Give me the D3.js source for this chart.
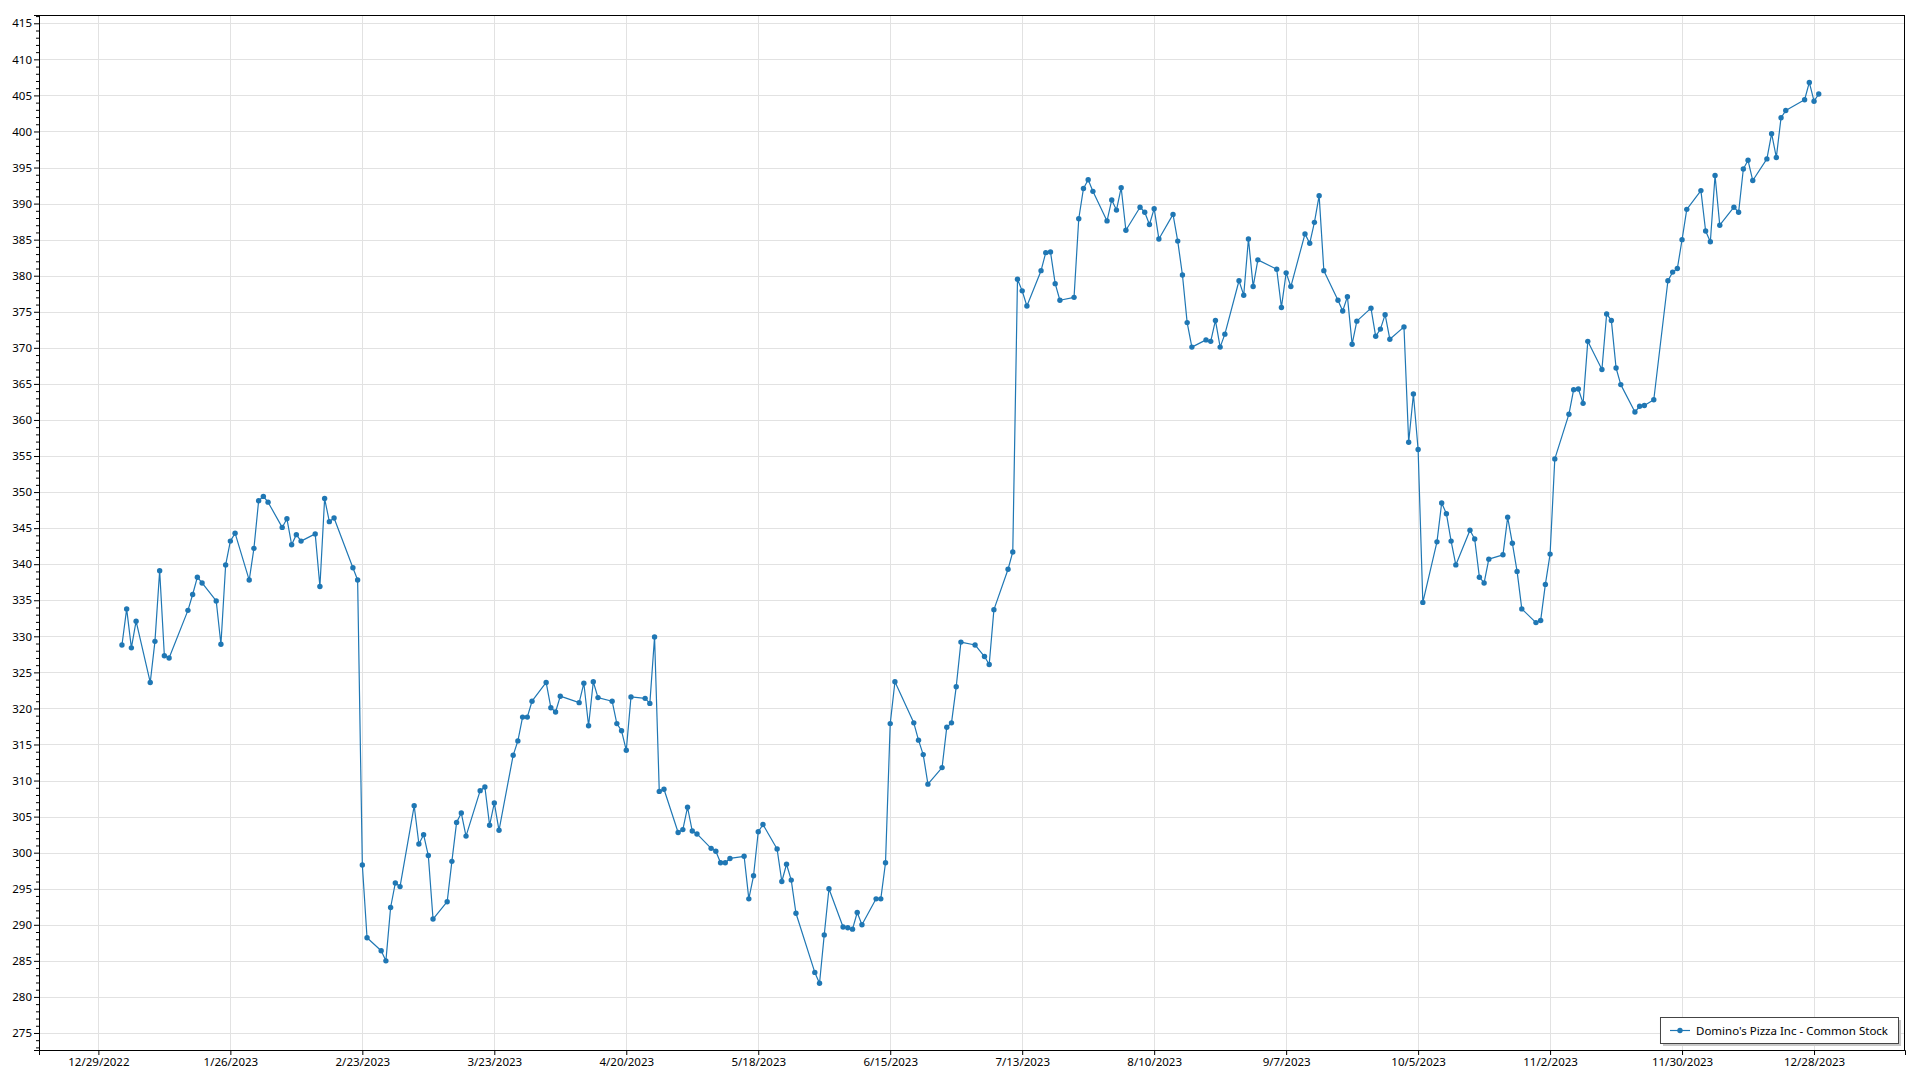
<!DOCTYPE html>
<html>
<head>
<meta charset="utf-8">
<script src="https://cdn.jsdelivr.net/npm/d3@7"></script>
<style>
  html, body { margin: 0; padding: 0; background: #fff; }
  svg { display: block; }
  text { font-family: "Noto Sans", "Open Sans", sans-serif; fill: #000; }
</style>
</head>
<body>
<svg id="chart" width="1920" height="1080"></svg>
<script>
// ---------------- data ----------------
const seriesName = "Domino's Pizza Inc - Common Stock";

const dates = [
  "2023-01-03","2023-01-04","2023-01-05","2023-01-06","2023-01-09","2023-01-10","2023-01-11","2023-01-12","2023-01-13","2023-01-17",
  "2023-01-18","2023-01-19","2023-01-20","2023-01-23","2023-01-24","2023-01-25","2023-01-26","2023-01-27","2023-01-30","2023-01-31",
  "2023-02-01","2023-02-02","2023-02-03","2023-02-06","2023-02-07","2023-02-08","2023-02-09","2023-02-10","2023-02-13","2023-02-14",
  "2023-02-15","2023-02-16","2023-02-17","2023-02-21","2023-02-22","2023-02-23","2023-02-24","2023-02-27","2023-02-28",
  "2023-03-01","2023-03-02","2023-03-03","2023-03-06","2023-03-07","2023-03-08","2023-03-09","2023-03-10","2023-03-13","2023-03-14",
  "2023-03-15","2023-03-16","2023-03-17","2023-03-20","2023-03-21","2023-03-22","2023-03-23","2023-03-24","2023-03-27","2023-03-28",
  "2023-03-29","2023-03-30","2023-03-31",
  "2023-04-03","2023-04-04","2023-04-05","2023-04-06","2023-04-10","2023-04-11","2023-04-12","2023-04-13","2023-04-14","2023-04-17",
  "2023-04-18","2023-04-19","2023-04-20","2023-04-21","2023-04-24","2023-04-25","2023-04-26","2023-04-27","2023-04-28",
  "2023-05-01","2023-05-02","2023-05-03","2023-05-04","2023-05-05","2023-05-08","2023-05-09","2023-05-10","2023-05-11","2023-05-12",
  "2023-05-15","2023-05-16","2023-05-17","2023-05-18","2023-05-19","2023-05-22","2023-05-23","2023-05-24","2023-05-25","2023-05-26",
  "2023-05-30","2023-05-31",
  "2023-06-01","2023-06-02","2023-06-05","2023-06-06","2023-06-07","2023-06-08","2023-06-09","2023-06-12","2023-06-13","2023-06-14",
  "2023-06-15","2023-06-16","2023-06-20","2023-06-21","2023-06-22","2023-06-23","2023-06-26","2023-06-27","2023-06-28","2023-06-29",
  "2023-06-30",
  "2023-07-03","2023-07-05","2023-07-06","2023-07-07","2023-07-10","2023-07-11","2023-07-12","2023-07-13","2023-07-14","2023-07-17",
  "2023-07-18","2023-07-19","2023-07-20","2023-07-21","2023-07-24","2023-07-25","2023-07-26","2023-07-27","2023-07-28","2023-07-31",
  "2023-08-01","2023-08-02","2023-08-03","2023-08-04","2023-08-07","2023-08-08","2023-08-09","2023-08-10","2023-08-11","2023-08-14",
  "2023-08-15","2023-08-16","2023-08-17","2023-08-18","2023-08-21","2023-08-22","2023-08-23","2023-08-24","2023-08-25","2023-08-28",
  "2023-08-29","2023-08-30","2023-08-31",
  "2023-09-01","2023-09-05","2023-09-06","2023-09-07","2023-09-08","2023-09-11","2023-09-12","2023-09-13","2023-09-14","2023-09-15",
  "2023-09-18","2023-09-19","2023-09-20","2023-09-21","2023-09-22","2023-09-25","2023-09-26","2023-09-27","2023-09-28","2023-09-29",
  "2023-10-02","2023-10-03","2023-10-04","2023-10-05","2023-10-06","2023-10-09","2023-10-10","2023-10-11","2023-10-12","2023-10-13",
  "2023-10-16","2023-10-17","2023-10-18","2023-10-19","2023-10-20","2023-10-23","2023-10-24","2023-10-25","2023-10-26","2023-10-27",
  "2023-10-30","2023-10-31",
  "2023-11-01","2023-11-02","2023-11-03","2023-11-06","2023-11-07","2023-11-08","2023-11-09","2023-11-10","2023-11-13","2023-11-14",
  "2023-11-15","2023-11-16","2023-11-17","2023-11-20","2023-11-21","2023-11-22","2023-11-24","2023-11-27","2023-11-28","2023-11-29",
  "2023-11-30",
  "2023-12-01","2023-12-04","2023-12-05","2023-12-06","2023-12-07","2023-12-08","2023-12-11","2023-12-12","2023-12-13","2023-12-14",
  "2023-12-15","2023-12-18","2023-12-19","2023-12-20","2023-12-21","2023-12-22","2023-12-26","2023-12-27","2023-12-28","2023-12-29"
];

const prices = [
  // Jan
  328.8,333.8,328.4,332.1,323.6,329.3,339.1,327.3,327.0,333.6,
  335.8,338.2,337.4,334.9,328.9,339.9,343.2,344.3,337.8,342.2,
  // Feb
  348.8,349.4,348.6,345.1,346.3,342.7,344.1,343.2,344.2,336.9,
  349.1,345.9,346.4,339.5,337.8,298.3,288.2,286.4,285.0,
  // Mar
  292.4,295.8,295.3,306.5,301.2,302.5,299.6,290.8,293.2,298.8,
  304.2,305.5,302.3,308.6,309.1,303.8,306.9,303.1,313.5,315.5,
  318.8,318.8,321.0,
  // Apr
  323.6,320.1,319.5,321.7,320.8,323.5,317.6,323.7,321.5,321.0,
  317.9,316.9,314.2,321.6,321.4,320.7,329.9,308.5,308.8,
  // May
  302.8,303.2,306.3,303.0,302.6,300.6,300.2,298.6,298.6,299.2,
  299.5,293.6,296.8,302.9,303.9,300.5,296.0,298.4,296.2,291.6,
  283.4,281.9,
  // Jun
  288.6,295.0,289.7,289.6,289.4,291.7,290.0,293.6,293.6,298.6,
  317.9,323.7,318.0,315.6,313.6,309.5,311.8,317.4,318.0,323.0,
  329.2,
  // Jul
  328.8,327.2,326.1,333.7,339.3,341.7,379.5,377.9,375.8,380.7,
  383.2,383.3,378.9,376.6,377.0,387.9,392.1,393.3,391.7,387.6,
  // Aug
  390.5,389.1,392.2,386.3,389.5,388.8,387.1,389.3,385.1,388.5,
  384.8,380.1,373.5,370.1,371.1,370.9,373.8,370.1,371.9,379.3,
  377.3,385.1,378.5,
  // Sep
  382.2,380.9,375.6,380.4,378.5,385.8,384.5,387.4,391.1,380.7,
  376.6,375.1,377.1,370.5,373.7,375.5,371.6,372.6,374.6,371.2,
  // Oct
  372.9,356.9,363.6,355.9,334.7,343.1,348.5,347.0,343.2,339.9,
  344.7,343.5,338.2,337.4,340.7,341.3,346.5,342.9,339.0,333.8,
  331.9,332.2,
  // Nov
  337.2,341.4,354.6,360.8,364.2,364.3,362.3,370.9,367.0,374.7,
  373.8,367.2,364.9,361.1,361.9,362.0,362.8,379.3,380.5,381.0,
  385.0,
  // Dec
  389.2,391.8,386.2,384.7,393.9,387.0,389.5,388.8,394.8,396.0,
  393.2,396.2,399.7,396.4,401.9,402.9,404.4,406.8,404.2,405.2
];

const xTickLabels = ["12/29/2022","1/26/2023","2/23/2023","3/23/2023","4/20/2023","5/18/2023","6/15/2023",
                     "7/13/2023","8/10/2023","9/7/2023","10/5/2023","11/2/2023","11/30/2023","12/28/2023"];
const yTicks = [275,280,285,290,295,300,305,310,315,320,325,330,335,340,345,350,355,360,365,370,375,380,385,390,395,400,405,410,415];

// axis ranges (as shown in the reference)
const xDomain = ["2022-12-16T09:36", "2024-01-16T07:12"];
const yDomain = [272.64, 416.15];

// ---------------- layout ----------------
const margin = { left: 39, top: 15, right: 15, bottom: 30 };
const W = 1920, H = 1080;
const pw = W - margin.left - margin.right;   // 1866
const ph = H - margin.top - margin.bottom;   // 1035
const color = "#1f77b4";

const parseDay = d3.timeParse("%Y-%m-%d");
const parseDT = d3.timeParse("%Y-%m-%dT%H:%M");
const parseLabel = d3.timeParse("%-m/%-d/%Y");
const fmtLabel = d3.timeFormat("%-m/%-d/%Y");

const data = dates.map((d, i) => ({ date: parseDay(d), value: prices[i] }));

const x = d3.scaleTime().domain(xDomain.map(parseDT)).range([0, pw]);
const y = d3.scaleLinear().domain(yDomain).range([ph, 0]);

const svg = d3.select("#chart");
const g = svg.append("g").attr("transform", `translate(${margin.left},${margin.top})`);

// grid lines
const xTickDates = xTickLabels.map(parseLabel);
g.append("g").attr("class", "xgrid")
  .selectAll("line").data(xTickDates).join("line")
  .attr("x1", d => Math.round(x(d)) + 0.5).attr("x2", d => Math.round(x(d)) + 0.5)
  .attr("y1", 0).attr("y2", ph)
  .attr("stroke", "#e2e2e2").attr("stroke-width", 1);

g.append("g").attr("class", "ygrid")
  .selectAll("line").data(yTicks).join("line")
  .attr("x1", 0).attr("x2", pw)
  .attr("y1", d => Math.round(y(d)) + 0.5).attr("y2", d => Math.round(y(d)) + 0.5)
  .attr("stroke", "#e2e2e2").attr("stroke-width", 1);

// clip
svg.append("defs").append("clipPath").attr("id", "clip")
  .append("rect").attr("width", pw).attr("height", ph);

// line + markers
const line = d3.line().x(d => x(d.date)).y(d => y(d.value));
const plot = g.append("g").attr("clip-path", "url(#clip)");
plot.append("path").datum(data)
  .attr("fill", "none").attr("stroke", color).attr("stroke-width", 1.2)
  .attr("stroke-linejoin", "round")
  .attr("d", line);
plot.append("g").selectAll("circle").data(data).join("circle")
  .attr("cx", d => x(d.date)).attr("cy", d => y(d.value))
  .attr("r", 2.7).attr("fill", color);

// frame
g.append("rect").attr("x", 0.5).attr("y", 0.5).attr("width", pw - 1).attr("height", ph)
  .attr("fill", "none").attr("stroke", "#000").attr("stroke-width", 1);

// x axis
const xAxis = d3.axisBottom(x).tickValues(xTickDates).tickFormat(fmtLabel)
  .tickSize(5).tickPadding(3);
const gx = g.append("g").attr("transform", `translate(0,${ph})`).call(xAxis);
gx.select(".domain").attr("stroke", "#000");
gx.selectAll(".tick line").attr("stroke", "#000");
gx.selectAll("text").attr("font-size", "11.5px").attr("fill", "#111");

// y axis minor ticks
const yMinor = d3.range(Math.ceil(yDomain[0]), Math.floor(yDomain[1]) + 1).filter(v => v % 5 !== 0);
const gyMinor = g.append("g").call(d3.axisLeft(y).tickValues(yMinor).tickSize(3).tickFormat(""));
gyMinor.select(".domain").remove();
gyMinor.selectAll(".tick line").attr("stroke", "#000");

// y axis
const yAxis = d3.axisLeft(y).tickValues(yTicks).tickSize(5).tickPadding(2).tickFormat(d3.format("d"));
const gy = g.append("g").call(yAxis);
gy.select(".domain").attr("stroke", "#000");
gy.selectAll(".tick line").attr("stroke", "#000");
gy.selectAll("text").attr("font-size", "11.5px").attr("fill", "#111");

// legend
const legRight = 1898, legTop = 1017, legH = 26;
const leg = svg.append("g");
const legText = leg.append("text")
  .attr("font-size", "11.5px").attr("fill", "#111")
  .attr("text-anchor", "end")
  .attr("x", legRight - 10).attr("y", legTop + legH / 2)
  .attr("dominant-baseline", "central")
  .text(seriesName);
const tw = legText.node().getComputedTextLength();
const legLeft = legRight - 10 - tw - 6 - 20 - 10;
leg.insert("rect", "text")
  .attr("x", legLeft + 3).attr("y", legTop + 3)
  .attr("width", legRight - legLeft).attr("height", legH)
  .attr("fill", "#c8c8c8");
leg.insert("rect", "text")
  .attr("x", legLeft + 0.5).attr("y", legTop + 0.5)
  .attr("width", legRight - legLeft).attr("height", legH)
  .attr("fill", "#fff").attr("stroke", "#444").attr("stroke-width", 1);
leg.append("line")
  .attr("x1", legLeft + 10).attr("x2", legLeft + 30)
  .attr("y1", legTop + legH / 2 + 0.5).attr("y2", legTop + legH / 2 + 0.5)
  .attr("stroke", color).attr("stroke-width", 1.2);
leg.append("circle")
  .attr("cx", legLeft + 20).attr("cy", legTop + legH / 2 + 0.5)
  .attr("r", 2.7).attr("fill", color);
</script>
</body>
</html>
